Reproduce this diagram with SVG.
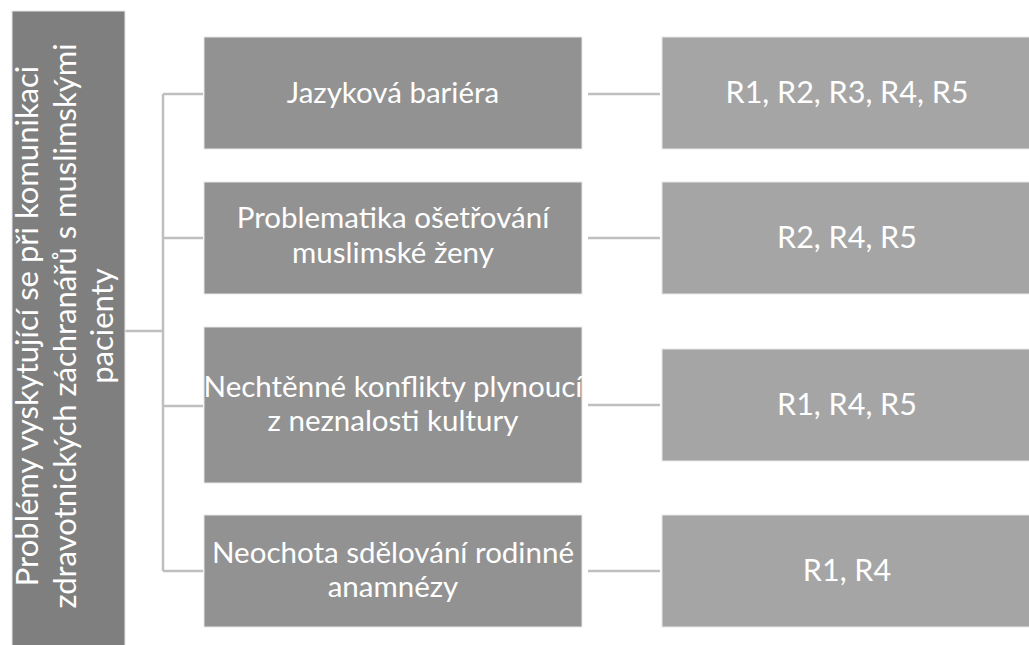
<svg xmlns="http://www.w3.org/2000/svg" width="1029" height="645" viewBox="0 0 1029 645">
<style>
.t{font-family:Lato,"Open Sans","Liberation Sans",sans-serif;font-size:29.5px;fill:#ffffff;text-anchor:middle}
.r{font-size:30.5px}
.big{font-size:31px}
.c{stroke:#bfbfbf;stroke-width:2.5;fill:none}
.root{fill:#7f7f7f;stroke:#e8e8e8;stroke-width:1}
.mid{fill:#929292;stroke:#e8e8e8;stroke-width:1}
.res{fill:#a5a5a5;stroke:#e8e8e8;stroke-width:1}
</style>
<rect width="1029" height="645" fill="#ffffff"/>
<g id="connectors">
<path class="c" d="M125 331H163M163 94V571M163 94H203M163 238H203M163 406H203M163 571H203"/>
<path class="c" d="M588 94H660M588 238H660M588 405H660M588 571H660"/>
</g>
<g id="root">
<rect class="root" x="12" y="11" width="113" height="640"/>
<text class="t big" transform="translate(68,326) rotate(-90)"><tspan x="0" y="-30">Problémy vyskytující se při komunikaci</tspan><tspan x="0" y="8">zdravotnických záchranářů s muslimskými</tspan><tspan x="0" y="45">pacienty</tspan></text>
</g>
<g id="n1"><rect class="mid" x="204" y="37" width="378" height="112"/><text class="t" x="393" y="103">Jazyková bariéra</text></g>
<g id="n2"><rect class="mid" x="204" y="182" width="378" height="112"/><text class="t" x="393" y="228">Problematika ošetřování</text><text class="t" x="393" y="263">muslimské ženy</text></g>
<g id="n3"><rect class="mid" x="204" y="327" width="378" height="156"/><text class="t" x="393" y="397">Nechtěnné konflikty plynoucí</text><text class="t" x="393" y="431">z neznalosti kultury</text></g>
<g id="n4"><rect class="mid" x="204" y="515" width="378" height="112"/><text class="t" x="393" y="563">Neochota sdělování rodinné</text><text class="t" x="393" y="597">anamnézy</text></g>
<g id="r1"><rect class="res" x="662" y="37" width="370" height="112"/><text class="t r" x="847" y="103">R1, R2, R3, R4, R5</text></g>
<g id="r2"><rect class="res" x="662" y="182" width="370" height="112"/><text class="t r" x="847" y="248">R2, R4, R5</text></g>
<g id="r3"><rect class="res" x="662" y="349" width="370" height="112"/><text class="t r" x="847" y="415">R1, R4, R5</text></g>
<g id="r4"><rect class="res" x="662" y="515" width="370" height="112"/><text class="t r" x="847" y="581">R1, R4</text></g>
</svg>
